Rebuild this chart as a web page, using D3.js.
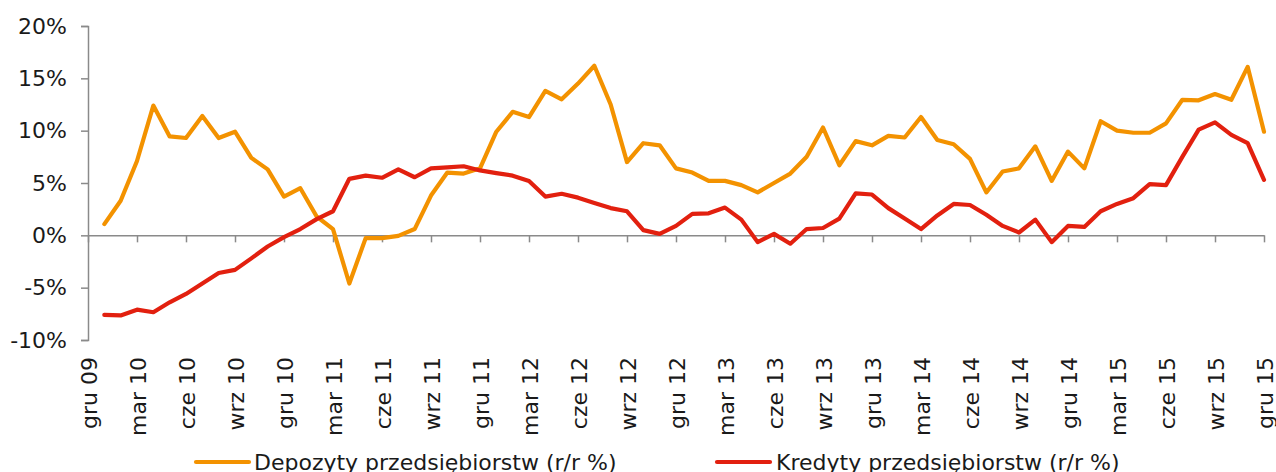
<!DOCTYPE html>
<html>
<head>
<meta charset="utf-8">
<script src="https://cdn.jsdelivr.net/npm/d3@7"></script>
<style>
  html, body { margin: 0; padding: 0; background: #fff; }
  svg { display: block; }
  text { font-family: "DejaVu Sans", Verdana, sans-serif; fill: #1a1a1a; }
</style>
</head>
<body>
<svg id="chart" width="1276" height="472"></svg>
<script>
// Monthly observations: sty 10 .. gru 15 (month index 1..72, index 0 = gru 09)
const monthIndex = d3.range(1, 73);

// Depozyty przedsiębiorstw, r/r %
const depozyty = [
  1.07, 3.3, 7.1, 12.4, 9.45, 9.3, 11.4, 9.3, 9.9, 7.4,
  6.3, 3.7, 4.5, 1.8, 0.6, -4.6, -0.27, -0.27, -0.05, 0.6,
  3.8, 6.0, 5.9, 6.4, 9.9, 11.8, 11.3, 13.8, 13.0, 14.5,
  16.2, 12.5, 7.0, 8.8, 8.6, 6.4, 6.0, 5.2, 5.2, 4.8,
  4.1, 5.0, 5.9, 7.5, 10.3, 6.7, 9.0, 8.6, 9.5, 9.35,
  11.3, 9.1, 8.7, 7.3, 4.1, 6.1, 6.4, 8.5, 5.2, 8.0,
  6.4, 10.9, 10.0, 9.8, 9.8, 10.7, 12.95, 12.9, 13.5, 12.95,
  16.1, 9.9
];

// Kredyty przedsiębiorstw, r/r %
const kredyty = [
  -7.6, -7.65, -7.1, -7.35, -6.4, -5.6, -4.6, -3.6, -3.3, -2.2,
  -1.07, -0.17, 0.6, 1.55, 2.3, 5.4, 5.7, 5.5, 6.3, 5.55,
  6.4, 6.5, 6.6, 6.2, 5.95, 5.7, 5.2, 3.7, 3.97, 3.6,
  3.1, 2.6, 2.3, 0.5, 0.14, 0.9, 2.05, 2.1, 2.65, 1.5,
  -0.65, 0.14, -0.8, 0.6, 0.7, 1.6, 4.0, 3.9, 2.6, 1.6,
  0.6, 1.9, 3.0, 2.9, 1.96, 0.9, 0.27, 1.5, -0.65, 0.9,
  0.8, 2.3, 3.0, 3.55, 4.9, 4.8, 7.5, 10.1, 10.8, 9.6,
  8.8, 5.3
];

// Quarterly axis labels (every 3rd month from gru 09)
const tickLabels = [
  "gru 09", "mar 10", "cze 10", "wrz 10",
  "gru 10", "mar 11", "cze 11", "wrz 11",
  "gru 11", "mar 12", "cze 12", "wrz 12",
  "gru 12", "mar 13", "cze 13", "wrz 13",
  "gru 13", "mar 14", "cze 14", "wrz 14",
  "gru 14", "mar 15", "cze 15", "wrz 15",
  "gru 15"
];

const yTicks = [-10, -5, 0, 5, 10, 15, 20];

const seriesNames = ["Depozyty przedsiębiorstw (r/r %)", "Kredyty przedsiębiorstw (r/r %)"];
const seriesColors = ["#f39200", "#e2200f"];

const svg = d3.select("#chart");
const axisColor = "#8a8a8a";
const fontSize = 22;

const x = d3.scaleLinear().domain([0, 72]).range([88, 1264]);
const y = d3.scaleLinear().domain([-10, 20]).range([340, 26]);

// Y axis
const yAxis = d3.axisLeft(y)
  .tickValues(yTicks)
  .tickSize(7)
  .tickPadding(14)
  .tickFormat(d => d + "%");

const gy = svg.append("g")
  .attr("transform", `translate(${x(0)},0)`)
  .call(yAxis);
gy.select(".domain").attr("stroke", axisColor).attr("stroke-width", 1.5);
gy.selectAll(".tick line").attr("stroke", axisColor).attr("stroke-width", 1.5);
gy.selectAll(".tick text")
  .style("font-family", '"DejaVu Sans", Verdana, sans-serif')
  .style("font-size", fontSize + "px")
  .attr("fill", "#1a1a1a");

// X axis drawn along the zero line
const xTickVals = tickLabels.map((_, i) => i * 3);
const xAxis = d3.axisBottom(x)
  .tickValues(xTickVals)
  .tickSize(7)
  .tickSizeOuter(0)
  .tickFormat(() => "");

const gx = svg.append("g")
  .attr("transform", `translate(0,${y(0)})`)
  .call(xAxis);
gx.select(".domain").attr("stroke", axisColor).attr("stroke-width", 1.5);
gx.selectAll(".tick line").attr("stroke", axisColor).attr("stroke-width", 1.5);

// Rotated month labels below the plot
svg.append("g")
  .selectAll("text")
  .data(tickLabels)
  .join("text")
  .attr("transform", (d, i) => `translate(${x(i * 3) + 8.5},357) rotate(-90)`)
  .attr("text-anchor", "end")
  .style("font-size", fontSize + "px")
  .text(d => d);

// Series lines
const line = d3.line()
  .x((d, i) => x(monthIndex[i]))
  .y(d => y(d));

[depozyty, kredyty].forEach((vals, k) => {
  svg.append("path")
    .datum(vals)
    .attr("fill", "none")
    .attr("stroke", seriesColors[k])
    .attr("stroke-width", 4.2)
    .attr("stroke-linejoin", "round")
    .attr("stroke-linecap", "round")
    .attr("d", line);
});

// Legend
const legendItems = [
  { x0: 196, x1: 249, tx: 254 },
  { x0: 717, x1: 770, tx: 776 }
];
legendItems.forEach((p, k) => {
  svg.append("line")
    .attr("x1", p.x0).attr("x2", p.x1)
    .attr("y1", 462).attr("y2", 462)
    .attr("stroke", seriesColors[k])
    .attr("stroke-width", 4.2)
    .attr("stroke-linecap", "round");
  svg.append("text")
    .attr("x", p.tx)
    .attr("y", 470)
    .style("font-size", fontSize + "px")
    .text(seriesNames[k]);
});
</script>
</body>
</html>
